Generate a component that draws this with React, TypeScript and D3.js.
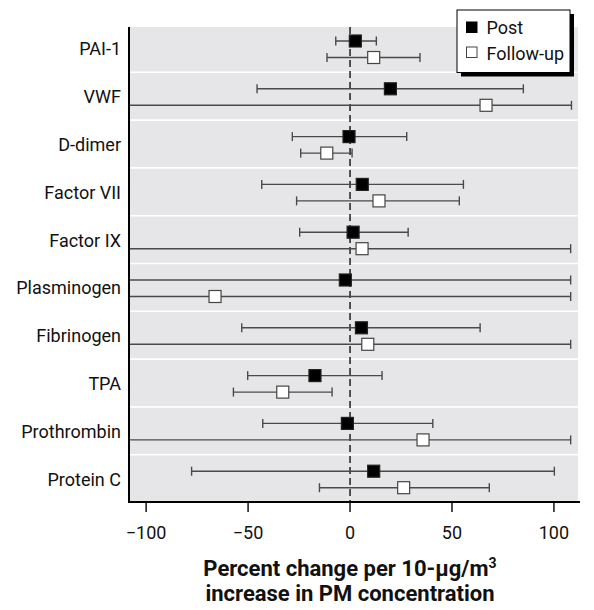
import React from "react";
import * as d3 from "d3";

const categories = ["PAI-1", "VWF", "D-dimer", "Factor VII", "Factor IX", "Plasminogen", "Fibrinogen", "TPA", "Prothrombin", "Protein C"];
// Post estimates and 95% CI (values below the axis minimum run off the left edge)
const postEst = [2.6, 19.8, -0.5, 6.0, 1.5, -2.3, 5.6, -17.2, -1.3, 11.6];
const postLow = [-7, -45.6, -28.3, -43.3, -24.7, -130, -53.1, -50.2, -42.8, -77.7];
const postHigh = [12.9, 85, 27.8, 55.6, 28.5, 108.2, 63.8, 15.7, 40.6, 100.2];
// Follow-up estimates and 95% CI
const fuEst = [11.6, 66.7, -11.4, 14.2, 5.9, -66.2, 8.7, -33, 35.8, 26.3];
const fuLow = [-11.3, -130, -24.2, -26.2, -130, -130, -130, -57.2, -130, -15];
const fuHigh = [34.3, 108.6, 1, 53.6, 108.2, 108.2, 108.2, -8.8, 108.2, 68.3];
const xTicks = [-100, -50, 0, 50, 100];
const legendLabels = ["Post", "Follow-up"];

const W = 594;
const H = 610;
const FONT = "Roboto, 'Liberation Sans', Arial, sans-serif";

export default function App() {
  const left = 129;
  const right = 578;
  const top = 27;
  const bottom = 502;
  const x = d3.scaleLinear().domain([-108.4, 111.8]).range([left, right]);
  const y = d3.scaleBand<string>().domain(categories).range([24.5, 502.5]).padding(0);
  const bw = y.bandwidth();
  const [dMin, dMax] = x.domain();

  const tickFmt = (v: number) => (v < 0 ? "\u2212" + Math.abs(v) : String(v));

  const series = [
    { est: postEst, low: postLow, high: postHigh, off: 16.5, fill: "#000", stroke: "#222" },
    { est: fuEst, low: fuLow, high: fuHigh, off: 33, fill: "#fff", stroke: "#444" },
  ];

  return (
    <svg width={W} height={H} style={{ position: "absolute", left: 0, top: 0 }} fontFamily={FONT}>
      <defs>
        <clipPath id="plotclip">
          <rect x={left} y={top} width={right - left} height={bottom - top} />
        </clipPath>
      </defs>
      <rect x={left} y={top} width={right - left} height={bottom - top} fill="#e6e6e8" />
      {categories.slice(1).map((c) => (
        <line key={c} x1={left} x2={right} y1={y(c)!} y2={y(c)!} stroke="#fff" strokeWidth={1.6} />
      ))}
      <line x1={x(0)} x2={x(0)} y1={top} y2={bottom} stroke="#000" strokeWidth={1.3} strokeDasharray="7,4" />
      <g clipPath="url(#plotclip)">
        {series.map((s, si) =>
          categories.map((c, i) => {
            const cy = y(c)! + s.off;
            const lo = s.low[i];
            const hi = s.high[i];
            return (
              <g key={si + "-" + c}>
                <line x1={x(lo)} x2={x(hi)} y1={cy} y2={cy} stroke="#4a4a4a" strokeWidth={1.4} />
                {lo >= dMin && <line x1={x(lo)} x2={x(lo)} y1={cy - 4.5} y2={cy + 4.5} stroke="#4a4a4a" strokeWidth={1.4} />}
                {hi <= dMax && <line x1={x(hi)} x2={x(hi)} y1={cy - 4.5} y2={cy + 4.5} stroke="#4a4a4a" strokeWidth={1.4} />}
                <rect x={x(s.est[i]) - 6} y={cy - 6} width={12} height={12} fill={s.fill} stroke={s.stroke} strokeWidth={1.2} />
              </g>
            );
          })
        )}
      </g>
      {/* axes */}
      <line x1={left} x2={left} y1={top} y2={bottom + 1} stroke="#000" strokeWidth={2} />
      <line x1={left - 1} x2={580} y1={bottom} y2={bottom} stroke="#000" strokeWidth={2} />
      {xTicks.map((t) => (
        <g key={t}>
          <line x1={x(t)} x2={x(t)} y1={bottom} y2={bottom + 10} stroke="#000" strokeWidth={1.4} />
          <text x={x(t)} y={539.3} textAnchor="middle" fontSize={18} fill="#111">
            {tickFmt(t)}
          </text>
        </g>
      ))}
      {categories.map((c) => (
        <text key={c} x={121} y={y(c)! + bw / 2 + 7} textAnchor="end" fontSize={18} fill="#111">
          {c}
        </text>
      ))}
      {/* axis title */}
      <text x={350} y={575.7} textAnchor="middle" fontSize={22} fontWeight="bold" fill="#111">
        Percent change per 10-µg/m
        <tspan fontSize={14} dy={-8}>3</tspan>
      </text>
      <text x={350} y={600.7} textAnchor="middle" fontSize={22} fontWeight="bold" fill="#111">
        increase in PM concentration
      </text>
      {/* legend */}
      <rect x={461} y={14} width={113} height={62.5} fill="#000" />
      <rect x={457} y={10} width={113} height={62.5} fill="#fff" stroke="#000" strokeWidth={1} />
      {legendLabels.map((l, i) => (
        <g key={l}>
          <rect
            x={466.5}
            y={22 + i * 25}
            width={10.5}
            height={10.5}
            fill={i === 0 ? "#000" : "#fff"}
            stroke={i === 0 ? "#000" : "#444"}
            strokeWidth={1}
          />
          <text x={486.5} y={34 + i * 25.5} fontSize={18} fill="#111">
            {l}
          </text>
        </g>
      ))}
    </svg>
  );
}
